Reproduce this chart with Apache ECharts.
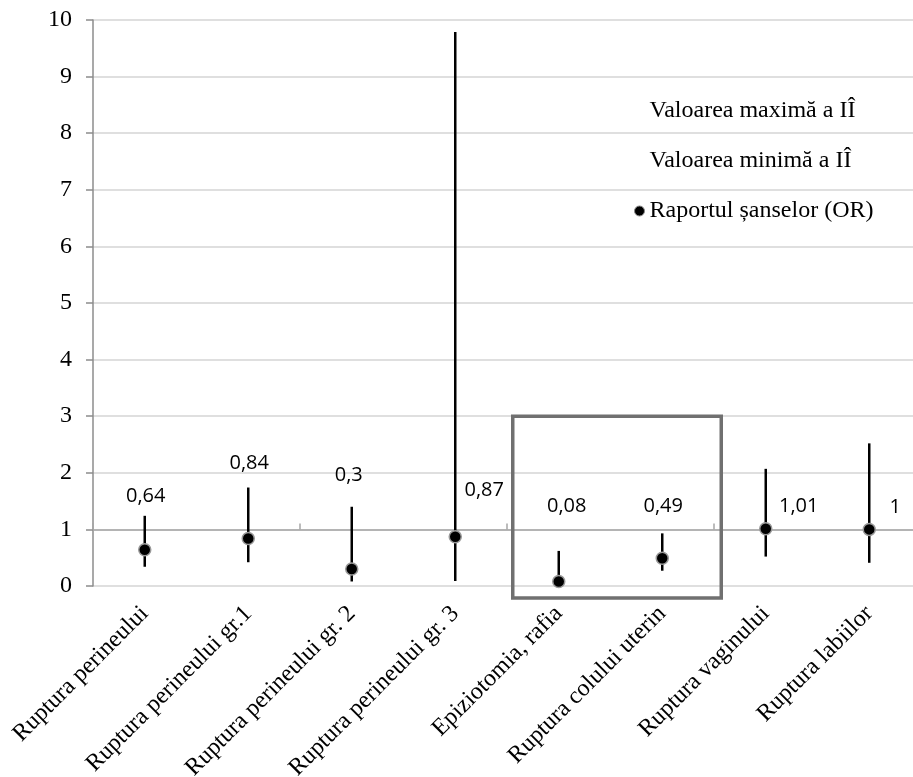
<!DOCTYPE html>
<html>
<head>
<meta charset="utf-8">
<script src="https://cdn.jsdelivr.net/npm/echarts@6/dist/echarts.min.js"></script>
<style>
html,body{margin:0;padding:0;background:#fff;}
#main{width:913px;height:777px;}
</style>
</head>
<body>
<div id="main"></div>
<script>
// date grafic
var categories = ['Ruptura perineului', 'Ruptura perineului gr.1', 'Ruptura perineului gr. 2', 'Ruptura perineului gr. 3',
	'Epiziotomia, rafia', 'Ruptura colului uterin', 'Ruptura vaginului', 'Ruptura labiilor'];
var orValues = [0.64, 0.84, 0.3, 0.87, 0.08, 0.49, 1.01, 1];
var ciMax = [1.24, 1.74, 1.40, 9.79, 0.62, 0.93, 2.07, 2.52];
var ciMin = [0.34, 0.42, 0.08, 0.09, 0.01, 0.27, 0.52, 0.41];
var yTicks = [0, 10, 1]; // min, max, pas

var seriesNames = ['Valoarea maximă a IÎ', 'Valoarea minimă a IÎ', 'Raportul șanselor (OR)'];

// pozitia etichetelor (stil)
var labelOffsets = [[1, -53], [1, -75], [-3, -94], [29, -46], [8, -75], [1, -52], [33, -23], [26, -22]];

var serif = "'Liberation Serif', 'Times New Roman', serif";

var myChart = echarts.init(document.getElementById('main'));

var orData = orValues.map(function(v, i) {
	return {
		value: v,
		label: {offset: labelOffsets[i]}
	};
});

var ciData = categories.map(function(c, i) {
	return [i, ciMin[i], ciMax[i]];
});

var option = {
	animation: false,
	grid: {left: 93, right: -8, top: 20, bottom: 191, containLabel: false, outerBoundsMode: 'none'},
	legend: {
		orient: 'vertical',
		left: 629,
		top: 93,
		itemWidth: 10,
		itemHeight: 10,
		itemGap: 24,
		textStyle: {fontFamily: serif, fontSize: 24, color: '#000', lineHeight: 26},
		data: [
			{name: seriesNames[0], icon: 'circle', itemStyle: {opacity: 0}},
			{name: seriesNames[1], icon: 'circle', itemStyle: {opacity: 0}},
			{name: seriesNames[2], icon: 'circle', itemStyle: {color: '#000', borderColor: '#888', borderWidth: 1}}
		]
	},
	xAxis: [{
		type: 'category',
		data: categories,
		axisLine: {show: false},
		axisTick: {show: false},
		axisLabel: {
			rotate: 45,
			interval: 0,
			margin: 24,
			fontFamily: serif,
			fontSize: 24,
			color: '#000'
		}
	}, {
		// axa orizontala la y = 1
		type: 'category',
		data: categories,
		axisLine: {onZero: true, onZeroAxisIndex: 1, lineStyle: {color: '#a6a6a6', width: 1.5}},
		axisTick: {show: true, length: 6, lineStyle: {color: '#a6a6a6', width: 1.5}},
		axisLabel: {show: false}
	}],
	yAxis: [{
		type: 'value',
		min: yTicks[0],
		max: yTicks[1],
		interval: yTicks[2],
		axisLine: {show: true, lineStyle: {color: '#8c8c8c', width: 1.5}},
		axisTick: {show: true, length: 7, lineStyle: {color: '#8c8c8c', width: 1.5}},
		axisLabel: {fontFamily: serif, fontSize: 24, color: '#000', margin: 21},
		splitLine: {show: true, lineStyle: {color: '#d4d4d4', width: 1.5}}
	}, {
		type: 'value',
		show: false,
		min: yTicks[0] - 1,
		max: yTicks[1] - 1,
		interval: yTicks[2],
		splitLine: {show: false}
	}],
	series: [{
		name: seriesNames[0],
		type: 'line',
		data: ciMax,
		symbol: 'none',
		silent: true,
		lineStyle: {opacity: 0},
		itemStyle: {opacity: 0}
	}, {
		name: seriesNames[1],
		type: 'line',
		data: ciMin,
		symbol: 'none',
		silent: true,
		lineStyle: {opacity: 0},
		itemStyle: {opacity: 0}
	}, {
		name: 'ci',
		type: 'custom',
		data: ciData,
		encode: {x: 0, y: [1, 2]},
		renderItem: function(params, api) {
			var lo = api.coord([api.value(0), api.value(1)]);
			var hi = api.coord([api.value(0), api.value(2)]);
			return {
				type: 'line',
				shape: {x1: lo[0], y1: lo[1], x2: hi[0], y2: hi[1]},
				style: {stroke: '#000', lineWidth: 2.5}
			};
		},
		z: 3
	}, {
		name: seriesNames[2],
		type: 'scatter',
		data: orData,
		symbol: 'circle',
		symbolSize: 12,
		itemStyle: {color: '#000', borderColor: '#999', borderWidth: 1.5, opacity: 1},
		label: {
			show: true,
			position: 'inside',
			fontFamily: "'Open Sans', sans-serif",
			fontSize: 20,
			color: '#000',
			formatter: function(p) {
				return String(p.value).replace('.', ',');
			}
		},
		z: 5
	}]
};

myChart.setOption(option);

// chenarul gri in jurul categoriilor 5-6
var boxFrom = myChart.convertToPixel({xAxisIndex: 0, yAxisIndex: 0}, [4, 3]);
var boxTo = myChart.convertToPixel({xAxisIndex: 0, yAxisIndex: 0}, [5, -0.21]);
myChart.setOption({
	graphic: [{
		type: 'rect',
		shape: {x: boxFrom[0] - 46, y: boxFrom[1], width: boxTo[0] + 59 - (boxFrom[0] - 46), height: boxTo[1] - boxFrom[1]},
		style: {fill: 'none', stroke: '#707070', lineWidth: 3.5},
		z: 10
	}]
});
</script>
</body>
</html>
